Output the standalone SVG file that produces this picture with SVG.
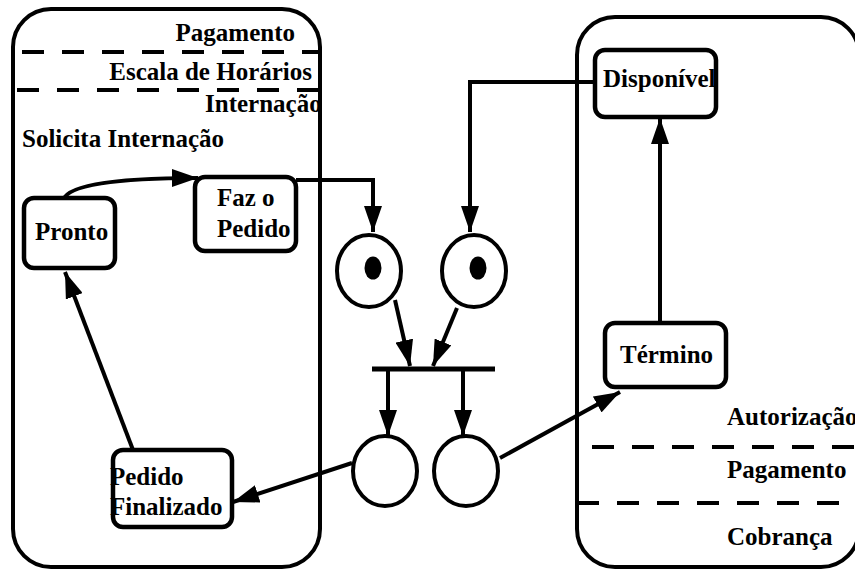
<svg xmlns="http://www.w3.org/2000/svg" width="855" height="570" viewBox="0 0 855 570">
  <style>
    text { font-family: "Liberation Serif", "Times New Roman", serif; font-weight: bold; font-size: 25px; fill: #000; }
    .lane { fill: none; stroke: #000; stroke-width: 4; }
    .sep { stroke: #000; stroke-width: 4; stroke-dasharray: 22 18; fill: none; }
    .node rect { fill: #fff; stroke: #000; stroke-width: 4.5; }
    .place { fill: #fff; stroke: #000; stroke-width: 4; }
    .token { fill: #000; }
    .edge { fill: none; stroke: #000; stroke-width: 4; }
    .arrow { marker-end: url(#head); }
  </style>
  <defs>
    <marker id="head" markerUnits="userSpaceOnUse" markerWidth="28" markerHeight="18" viewBox="0 0 28 18" refX="26" refY="9" orient="auto">
      <path d="M0,0 L26,9 L0,18 z" fill="#000"/>
    </marker>
  </defs>

  <rect width="855" height="570" fill="#fff"/>

  <!-- Left swimlane: lane labels and separators -->
  <g id="lane-left">
    <text x="295" y="41" text-anchor="end">Pagamento</text>
    <line class="sep" x1="22" y1="52" x2="322" y2="52"/>
    <text x="312" y="80" text-anchor="end">Escala de Horários</text>
    <line class="sep" x1="17" y1="90" x2="322" y2="90"/>
    <text x="205" y="112">Internação</text>
    <text x="22" y="147">Solicita Internação</text>
    <rect class="lane" x="13" y="9" width="307" height="558" rx="38" ry="38"/>
  </g>

  <!-- Right swimlane -->
  <g id="lane-right">
    <rect class="lane" x="577" y="17" width="282" height="550" rx="38" ry="38"/>
    <text x="727" y="425">Autorização</text>
    <line class="sep" x1="592" y1="447" x2="855" y2="447"/>
    <text x="727" y="478">Pagamento</text>
    <line class="sep" x1="577" y1="503" x2="840" y2="503"/>
    <text x="727" y="545">Cobrança</text>
  </g>

  <!-- Connectors -->
  <g id="connectors">
    <path class="edge arrow" d="M63,202 C63,184 120,178 198,178"/>
    <path class="edge arrow" d="M296,180 L373,180 L373,232"/>
    <path class="edge arrow" d="M598,82 L470,82 L470,232"/>
    <path class="edge arrow" d="M395,300 L410,366"/>
    <path class="edge arrow" d="M457,308 L433,366"/>
    <line class="edge" x1="372" y1="369" x2="495" y2="369" style="stroke-width:5"/>
    <path class="edge arrow" d="M388,369 L388,436"/>
    <path class="edge arrow" d="M463,369 L463,436"/>
    <path class="edge arrow" d="M352,463 L233,502"/>
    <path class="edge arrow" d="M500,458 L620,392"/>
    <path class="edge arrow" d="M660,323 L660,118"/>
    <path class="edge arrow" d="M133,450 L65,272"/>
  </g>

  <!-- Transitions -->
  <g id="pronto" class="node">
    <rect x="24" y="198" width="91" height="70" rx="10" ry="10"/>
    <text x="35" y="240">Pronto</text>
  </g>
  <g id="faz-pedido" class="node">
    <rect x="195" y="177" width="101" height="74" rx="10" ry="10"/>
    <text x="217" y="206">Faz o</text>
    <text x="217" y="237">Pedido</text>
  </g>
  <g id="pedido-finalizado" class="node">
    <rect x="113" y="450" width="119" height="77" rx="10" ry="10"/>
    <text x="110" y="485">Pedido</text>
    <text x="110" y="515">Finalizado</text>
  </g>
  <g id="disponivel" class="node">
    <rect x="595" y="50" width="121" height="67" rx="10" ry="10"/>
    <text x="603" y="87">Disponível</text>
  </g>
  <g id="termino" class="node">
    <rect x="605" y="323" width="121" height="64" rx="10" ry="10"/>
    <text x="620" y="363">Término</text>
  </g>

  <!-- Places -->
  <g id="place-1">
    <ellipse class="place" cx="369" cy="271" rx="32" ry="36"/>
    <ellipse class="token" cx="373" cy="268" rx="8.5" ry="11.5"/>
  </g>
  <g id="place-2">
    <ellipse class="place" cx="474" cy="271" rx="32" ry="36"/>
    <ellipse class="token" cx="478" cy="268" rx="8.5" ry="11.5"/>
  </g>
  <g id="place-3">
    <ellipse class="place" cx="385" cy="471" rx="32" ry="35"/>
  </g>
  <g id="place-4">
    <ellipse class="place" cx="466" cy="471" rx="32" ry="35"/>
  </g>
</svg>
